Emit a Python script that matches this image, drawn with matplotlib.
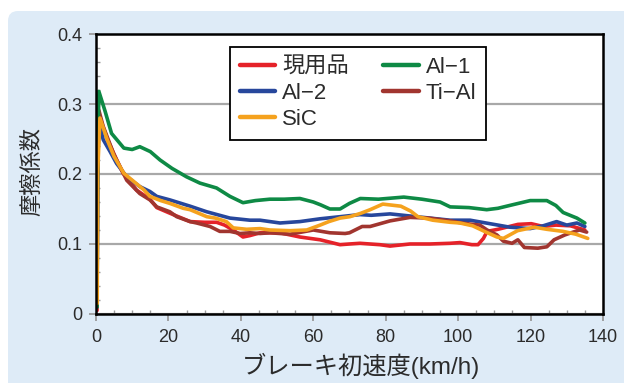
import matplotlib
matplotlib.use("Agg")
import matplotlib.pyplot as plt
from matplotlib.patches import FancyBboxPatch
from matplotlib.transforms import IdentityTransform
from matplotlib.ticker import MultipleLocator

plt.rcParams['font.family'] = ['Liberation Sans', 'Noto Sans CJK JP', 'DejaVu Sans']

# --- data: friction coefficient vs. initial braking speed ---
series_names = ["現用品", "Al−2", "SiC", "Al−1", "Ti−Al"]

genyo_x = [0.3, 0.4, 0.8, 2.9, 5.7, 7.5, 11.2, 14.9, 16.8, 20.4, 26, 30, 33.3, 35.5, 37.9,
           40.6, 42.5, 45.3, 50.8, 56.3, 61.9, 67.4, 70, 72.9, 78.4, 81.2, 86.7, 92.2,
           97.8, 100.5, 103.8, 105.5, 107, 108, 111, 116.5, 120.2, 123.5, 127, 131, 135]
genyo_y = [0.005, 0.2, 0.285, 0.253, 0.22, 0.201, 0.177, 0.164, 0.152, 0.144, 0.132, 0.131,
           0.131, 0.127, 0.12, 0.11, 0.112, 0.116, 0.116, 0.11, 0.106, 0.099, 0.1, 0.101,
           0.099, 0.097, 0.1, 0.1, 0.101, 0.102, 0.099, 0.099, 0.108, 0.118, 0.121, 0.128,
           0.129, 0.125, 0.127, 0.126, 0.12]

al2_x = [0.3, 0.45, 0.8, 2, 3.9, 5.7, 8.5, 12.1, 14.9, 16.8, 20.4, 26, 30.6, 37, 42.5, 45.3,
         50.8, 56.3, 61.9, 67.4, 72.9, 76, 81.2, 86.7, 92.2, 97.8, 103.3, 108.8, 114.3,
         119.9, 123.5, 127.2, 130, 132.8, 135]
al2_y = [0.01, 0.2, 0.275, 0.249, 0.232, 0.215, 0.196, 0.182, 0.175, 0.168, 0.163, 0.154,
         0.146, 0.137, 0.134, 0.134, 0.13, 0.132, 0.136, 0.139, 0.142, 0.141, 0.143, 0.14,
         0.137, 0.134, 0.134, 0.129, 0.124, 0.122, 0.126, 0.132, 0.127, 0.13, 0.125]

sic_x = [0.35, 0.45, 1.1, 3.1, 5, 7.7, 10.5, 13.3, 14.9, 17.9, 20.4, 24.1, 26, 30.6, 33, 36,
         37.9, 41.6, 45.3, 48, 53.6, 58.2, 61.9, 64.3, 67.4, 70.1, 73.2, 75.7, 79.2, 84.2,
         86.9, 88.9, 93, 97.8, 100.5, 104, 107.7, 110.7, 112.5, 116.4, 121, 124.5, 129,
         132.5, 135.8]
sic_y = [0.015, 0.2, 0.28, 0.249, 0.225, 0.201, 0.189, 0.177, 0.168, 0.162, 0.158, 0.151,
         0.149, 0.139, 0.137, 0.132, 0.123, 0.121, 0.122, 0.12, 0.119, 0.12, 0.127, 0.132,
         0.137, 0.139, 0.144, 0.149, 0.157, 0.154, 0.147, 0.139, 0.134, 0.131, 0.13, 0.126,
         0.117, 0.11, 0.108, 0.119, 0.124, 0.121, 0.118, 0.114, 0.108]

al1_x = [0.3, 0.45, 0.8, 2.5, 4.3, 7.7, 10, 12.1, 15, 17.7, 21, 25, 28.7, 33.3, 37, 40.6, 44,
         48, 52, 56.3, 60, 62, 64.6, 67.4, 70, 73, 78, 85, 90, 95, 97.8, 103, 107.9, 111,
         115, 119.9, 124.5, 127, 129, 132.8, 135]
al1_y = [0.01, 0.2, 0.318, 0.29, 0.258, 0.237, 0.235, 0.239, 0.232, 0.22, 0.208, 0.196,
         0.187, 0.18, 0.168, 0.159, 0.162, 0.164, 0.164, 0.165, 0.16, 0.156, 0.15, 0.15,
         0.158, 0.165, 0.164, 0.167, 0.164, 0.16, 0.153, 0.152, 0.149, 0.151, 0.156, 0.162,
         0.162, 0.155, 0.145, 0.137, 0.13]

tial_x = [0.3, 0.45, 0.8, 2, 4.8, 8.5, 12.1, 14.9, 16.8, 20.4, 22.3, 26, 27.8, 31.5, 34.2,
          37, 39.8, 42.5, 45.3, 48, 53.6, 60, 64.6, 68.8, 70, 73.5, 75.7, 81.2, 86.7, 91.9,
          97.8, 101, 104, 106, 108, 110.7, 112.5, 114.9, 116.5, 118.3, 122, 124.5, 126.5,
          129.5, 133.5, 135.5]
tial_y = [0.01, 0.2, 0.291, 0.268, 0.23, 0.191, 0.172, 0.163, 0.153, 0.146, 0.139, 0.132,
          0.13, 0.125, 0.118, 0.118, 0.115, 0.116, 0.115, 0.116, 0.114, 0.12, 0.116, 0.115,
          0.116, 0.125, 0.125, 0.133, 0.138, 0.137, 0.133, 0.13, 0.128, 0.127, 0.12, 0.113,
          0.104, 0.101, 0.106, 0.095, 0.094, 0.096, 0.106, 0.113, 0.12, 0.117]

x_ticks = [0, 20, 40, 60, 80, 100, 120, 140]
y_ticks = [0, 0.1, 0.2, 0.3, 0.4]
y_tick_labels = ["0", "0.1", "0.2", "0.3", "0.4"]

colors = {"現用品": "#E52229", "Al−2": "#27479C", "SiC": "#F5A21E",
          "Al−1": "#0E8A45", "Ti−Al": "#A1352F"}

fig = plt.figure(figsize=(6.24, 3.83), dpi=100, facecolor="white")

# light blue rounded panel behind the chart
panel = FancyBboxPatch((8, -30), 650, 402, boxstyle="round,pad=0,rounding_size=10",
                       transform=IdentityTransform(), facecolor="#DEEBF7",
                       edgecolor="none", zorder=-5)
fig.patches.append(panel)

ax = fig.add_axes([0.1538, 0.1802, 0.8125, 0.7310])
ax.set_zorder(1)
ax.set_facecolor("white")

lw = 2.6
h_red, = ax.plot(genyo_x, genyo_y, color=colors["現用品"], lw=lw, zorder=3,
                 solid_joinstyle="round", solid_capstyle="round")
h_blue, = ax.plot(al2_x, al2_y, color=colors["Al−2"], lw=lw, zorder=4,
                  solid_joinstyle="round", solid_capstyle="round")
h_brown, = ax.plot(tial_x, tial_y, color=colors["Ti−Al"], lw=lw, zorder=5,
                   solid_joinstyle="round", solid_capstyle="round")
h_green, = ax.plot(al1_x, al1_y, color=colors["Al−1"], lw=lw, zorder=6,
                   solid_joinstyle="round", solid_capstyle="round")
h_orange, = ax.plot(sic_x, sic_y, color=colors["SiC"], lw=lw, zorder=7,
                    solid_joinstyle="round", solid_capstyle="round")

ax.set_xlim(0, 140)
ax.set_ylim(0, 0.4)
ax.set_xticks(x_ticks)
ax.set_yticks(y_ticks)
ax.set_yticklabels(y_tick_labels)
ax.xaxis.set_minor_locator(MultipleLocator(5))
ax.yaxis.set_minor_locator(MultipleLocator(0.02))

ax.yaxis.grid(True, which="major", color="#A8A8A8", lw=1.6)
ax.set_axisbelow(True)

ax.tick_params(which="major", direction="out", length=5, width=1.3, color="#9A9A9A",
               labelsize=13, labelcolor="#2B2B2B")
ax.tick_params(axis="x", which="major", pad=6)
ax.tick_params(axis="y", which="major", pad=5)
ax.tick_params(which="minor", direction="in", length=3, width=1.0, color="#9A9A9A")

for s in ax.spines.values():
    s.set_color("black")
    s.set_linewidth(1.8)
    s.set_zorder(8)

leg = ax.legend([h_red, h_blue, h_orange, h_green, h_brown], series_names, ncol=2,
                loc="upper left", bbox_to_anchor=(0.264, 0.954), borderaxespad=0,
                fancybox=False, edgecolor="black", framealpha=1, fontsize=16,
                handlelength=1.6, handletextpad=0.3, columnspacing=1.55,
                labelspacing=0.22, borderpad=0.45)
leg.get_frame().set_linewidth(1.3)
leg.set_zorder(10)
for t in leg.get_texts():
    t.set_color("#2B2B2B")
for l in leg.get_lines():
    l.set_linewidth(3.2)

fig.text(361 / 624, (383 - 366) / 383, "ブレーキ初速度(km/h)", ha="center", va="center",
         fontsize=17.5, color="#2B2B2B")
fig.text(33 / 624, (383 - 172) / 383, "摩擦係数", ha="center", va="center",
         rotation=90, fontsize=16, color="#2B2B2B")

fig.savefig("out.png", dpi=100, facecolor="white")
